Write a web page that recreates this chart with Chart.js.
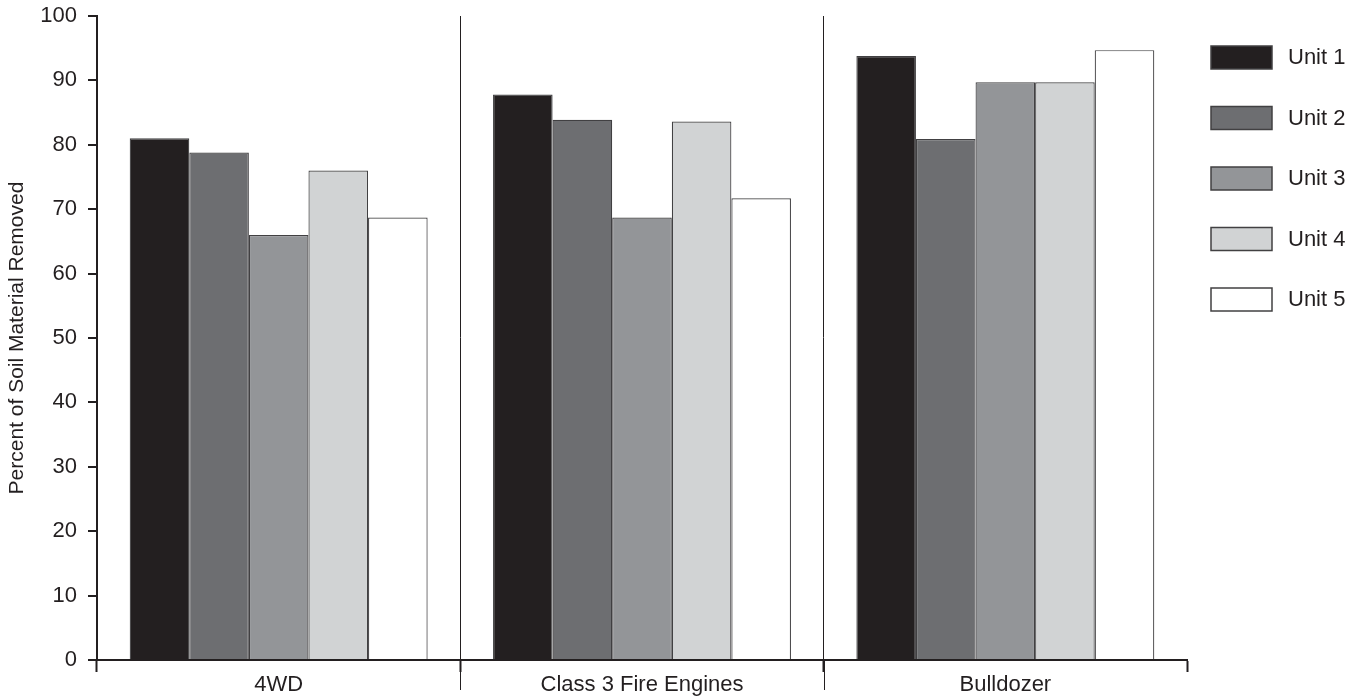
<!DOCTYPE html>
<html>
<head>
<meta charset="utf-8">
<script src="https://cdn.jsdelivr.net/npm/chart.js@4/dist/chart.umd.min.js"></script>
<style>
  html, body { margin: 0; padding: 0; background: #fff; }
  #wrap { width: 1359px; height: 698px; }
</style>
</head>
<body>
<div id="wrap"><canvas id="chart" width="1359" height="698"></canvas></div>
<script>
// ─── Data ─────────────────────────────────────────────────────────────────────

const categories = ["4WD", "Class 3 Fire Engines", "Bulldozer"];
const seriesNames = ["Unit 1", "Unit 2", "Unit 3", "Unit 4", "Unit 5"];

const unit1 = [81, 87.8, 93.8];
const unit2 = [78.8, 83.9, 80.9];
const unit3 = [66, 68.7, 89.7];
const unit4 = [76, 83.6, 89.7];
const unit5 = [68.7, 71.7, 94.7];

const yTicks = [0, 10, 20, 30, 40, 50, 60, 70, 80, 90, 100];

const INK = "#231f20";
const FILLS = ["#231f20", "#6d6e71", "#939598", "#d1d3d4", "#ffffff"];
const FONT = "'Liberation Sans', Arial, sans-serif";

// ─── Plugins ──────────────────────────────────────────────────────────────────

// extends the inner category separators below the axis
const separatorTicks = {
  id: "separatorTicks",
  afterDraw(chart) {
    const x = chart.scales.x;
    const ctx = chart.ctx;
    const half = (x.getPixelForValue(1) - x.getPixelForValue(0)) / 2;
    ctx.save();
    ctx.strokeStyle = INK;
    ctx.lineWidth = 1;
    for (let i = 1; i < categories.length; i++) {
      const px = Math.round(x.getPixelForValue(i) - half) + 0.5;
      ctx.beginPath();
      ctx.moveTo(px, x.top);
      ctx.lineTo(px, x.top + 30);
      ctx.stroke();
    }
    ctx.restore();
  },
};

// vertical legend on the right
const sideLegend = {
  id: "sideLegend",
  afterDraw(chart) {
    const ctx = chart.ctx;
    const left = chart.chartArea.right + 24;
    ctx.save();
    ctx.font = "22px " + FONT;
    ctx.textBaseline = "middle";
    chart.data.datasets.forEach((ds, i) => {
      const top = 46 + i * 60.5;
      ctx.fillStyle = ds.backgroundColor;
      ctx.fillRect(left, top, 61, 23);
      ctx.strokeStyle = "#414042";
      ctx.lineWidth = 1.5;
      ctx.strokeRect(left, top, 61, 23);
      ctx.fillStyle = INK;
      ctx.fillText(ds.label, left + 77, top + 12);
    });
    ctx.restore();
  },
};

// ─── Chart ────────────────────────────────────────────────────────────────────

const seriesValues = [unit1, unit2, unit3, unit4, unit5];

new Chart(document.getElementById("chart").getContext("2d"), {
  type: "bar",
  data: {
    labels: categories,
    datasets: seriesNames.map((name, i) => ({
      label: name,
      data: seriesValues[i],
      backgroundColor: FILLS[i],
      borderColor: "#414042",
      borderWidth: 1.2,
      barPercentage: 1,
      categoryPercentage: 0.82,
    })),
  },
  options: {
    responsive: false,
    animation: false,
    layout: { padding: { top: 16, right: 172, bottom: 0, left: 0 } },
    plugins: {
      legend: { display: false },
      tooltip: { enabled: false },
    },
    scales: {
      x: {
        afterFit: (s) => { s.height = 38; },
        grid: {
          offset: true,
          drawOnChartArea: true,
          color: (c) => (c.index === 1 || c.index === 2 ? INK : "rgba(0,0,0,0)"),
          lineWidth: 1,
          tickColor: INK,
          tickWidth: 2,
          tickLength: 12,
        },
        border: { color: INK, width: 2 },
        ticks: {
          color: INK,
          font: { family: FONT, size: 22 },
          padding: 0,
        },
      },
      y: {
        min: 0,
        max: 100,
        afterFit: (s) => {
          s.width = 97;
          s.paddingTop = 0;
          s.paddingBottom = 0;
        },
        afterBuildTicks: (s) => { s.ticks = yTicks.map((v) => ({ value: v })); },
        grid: {
          drawOnChartArea: false,
          color: INK,
          lineWidth: 2,
          tickLength: 9,
        },
        border: { color: INK, width: 2 },
        ticks: {
          color: INK,
          font: { family: FONT, size: 22 },
          padding: 11,
        },
        title: {
          display: true,
          text: "Percent of Soil Material Removed",
          color: INK,
          font: { family: FONT, size: 21 },
          padding: { top: 5, bottom: 0 },
        },
      },
    },
  },
  plugins: [separatorTicks, sideLegend],
});
</script>
</body>
</html>
